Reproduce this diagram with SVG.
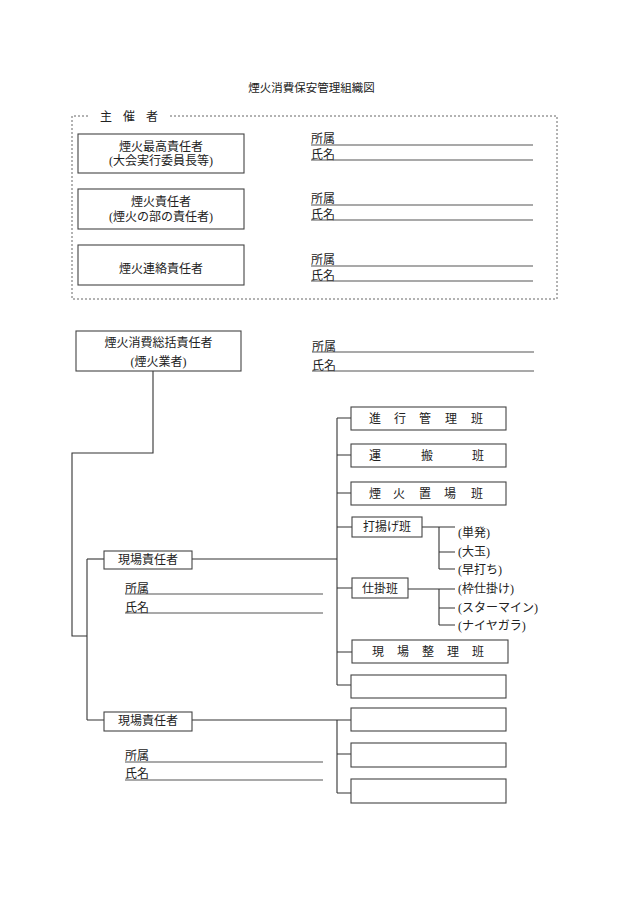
<svg xmlns="http://www.w3.org/2000/svg" width="630" height="903" viewBox="0 0 630 903">
<style>
text{font-family:"Liberation Serif","Noto Sans CJK JP",serif;font-size:12px;fill:#222;dominant-baseline:central}
.c{text-anchor:middle}
.box{fill:#fff;stroke:#444;stroke-width:1.1}
.ul{stroke:#555;stroke-width:1.2;fill:none}
.dash{stroke:#555;stroke-width:0.9;fill:none;stroke-dasharray:2 2}
.con{stroke:#333;stroke-width:1.1;fill:none}
</style>
<rect width="630" height="903" fill="#fff"/>
<text id="title" x="311.5" y="88" class="c" style="font-size:11.5px">煙火消費保安管理組織図</text>

<g id="organizer">
<path class="dash" d="M88 116 H72 V299 H557 V116 H170"/>
<text x="106 129 152" y="117" class="c">主催者</text>
</g>

<g id="node-saikou">
<rect class="box" x="78" y="134" width="166" height="39"/>
<text x="161" y="147" class="c">煙火最高責任者</text>
<text x="161" y="161" class="c">(大会実行委員長等)</text>
</g>
<g id="node-sekinin">
<rect class="box" x="78" y="189" width="166" height="40"/>
<text x="161" y="202" class="c">煙火責任者</text>
<text x="161" y="217" class="c">(煙火の部の責任者)</text>
</g>
<g id="node-renraku">
<rect class="box" x="78" y="245" width="166" height="40"/>
<text x="161" y="269" class="c">煙火連絡責任者</text>
</g>

<g id="fields-top">
<text x="311" y="139">所属</text>
<line class="ul" x1="311" y1="145" x2="533" y2="145"/>
<text x="311" y="154.5">氏名</text>
<line class="ul" x1="311" y1="160" x2="533" y2="160"/>
<text x="311" y="199">所属</text>
<line class="ul" x1="311" y1="205" x2="533" y2="205"/>
<text x="311" y="214.5">氏名</text>
<line class="ul" x1="311" y1="220" x2="533" y2="220"/>
<text x="311" y="260">所属</text>
<line class="ul" x1="311" y1="266" x2="533" y2="266"/>
<text x="311" y="275.5">氏名</text>
<line class="ul" x1="311" y1="281" x2="533" y2="281"/>
</g>

<g id="connectors">
<path class="con" d="M153 371 V453 H72 V636 H87"/>
<path class="con" d="M87 559 V720"/>
<path class="con" d="M87 559 H104"/>
<path class="con" d="M192 559 H337"/>
<path class="con" d="M337 418 V685"/>
<path class="con" d="M337 418 H351 M337 455 H351 M337 493 H351 M337 527 H352 M337 588 H352 M337 652 H352 M337 685 H351"/>
<path class="con" d="M422 527 H455 M439 527 V569 M439 552 H455 M439 569 H455"/>
<path class="con" d="M408 589 H455 M439 589 V625 M439 608 H455 M439 625 H455"/>
<path class="con" d="M87 720 H104 M192 720 H351 M337 720 V793 M337 754 H351 M337 793 H351"/>
</g>

<g id="node-soukatsu">
<rect class="box" x="76" y="331" width="165" height="40"/>
<text x="158.5" y="343" class="c">煙火消費総括責任者</text>
<text x="158.5" y="362" class="c">(煙火業者)</text>
</g>
<g id="fields-soukatsu">
<text x="312" y="346.5">所属</text>
<line class="ul" x1="312" y1="352" x2="534" y2="352"/>
<text x="312" y="366">氏名</text>
<line class="ul" x1="312" y1="371" x2="534" y2="371"/>
</g>

<g id="node-genba1">
<rect class="box" x="104" y="551" width="88" height="18"/>
<text x="148" y="560" class="c">現場責任者</text>
</g>
<g id="fields-genba1">
<text x="125" y="588.5">所属</text>
<line class="ul" x1="125" y1="594" x2="323" y2="594"/>
<text x="125" y="607.5">氏名</text>
<line class="ul" x1="125" y1="613" x2="323" y2="613"/>
</g>

<g id="node-genba2">
<rect class="box" x="104" y="712" width="88" height="19"/>
<text x="148" y="721" class="c">現場責任者</text>
</g>
<g id="fields-genba2">
<text x="125" y="756">所属</text>
<line class="ul" x1="125" y1="762" x2="323" y2="762"/>
<text x="125" y="774">氏名</text>
<line class="ul" x1="125" y1="780" x2="323" y2="780"/>
</g>

<g id="node-shinkou">
<rect class="box" x="351" y="407" width="155" height="23"/>
<text x="375 400 425 451 477" y="418.5" class="c">進行管理班</text>
</g>
<g id="node-unpan">
<rect class="box" x="351" y="444" width="155" height="23"/>
<text x="375 427 478" y="455.5" class="c">運搬班</text>
</g>
<g id="node-okiba">
<rect class="box" x="351" y="482" width="155" height="23"/>
<text x="375 399 425 450 477" y="493.5" class="c">煙火置場班</text>
</g>
<g id="node-uchiage">
<rect class="box" x="352" y="517" width="70" height="20"/>
<text x="387" y="527" class="c">打揚げ班</text>
</g>
<g id="sub-uchiage">
<text x="458" y="533">(単発)</text>
<text x="458" y="552">(大玉)</text>
<text x="458" y="570">(早打ち)</text>
</g>
<g id="node-shikake">
<rect class="box" x="352" y="578" width="56" height="20"/>
<text x="380" y="588.5" class="c">仕掛班</text>
</g>
<g id="sub-shikake">
<text x="458" y="589">(枠仕掛け)</text>
<text x="458" y="608">(スターマイン)</text>
<text x="458" y="626">(ナイヤガラ)</text>
</g>
<g id="node-seiri">
<rect class="box" x="352" y="640" width="156" height="23"/>
<text x="378 403 428 453 478" y="651.5" class="c">現場整理班</text>
</g>
<g id="node-empty1"><rect class="box" x="351" y="675" width="155" height="23"/></g>
<g id="node-empty2"><rect class="box" x="351" y="708" width="155" height="23"/></g>
<g id="node-empty3"><rect class="box" x="351" y="743" width="155" height="24"/></g>
<g id="node-empty4"><rect class="box" x="351" y="779" width="155" height="24"/></g>
</svg>
